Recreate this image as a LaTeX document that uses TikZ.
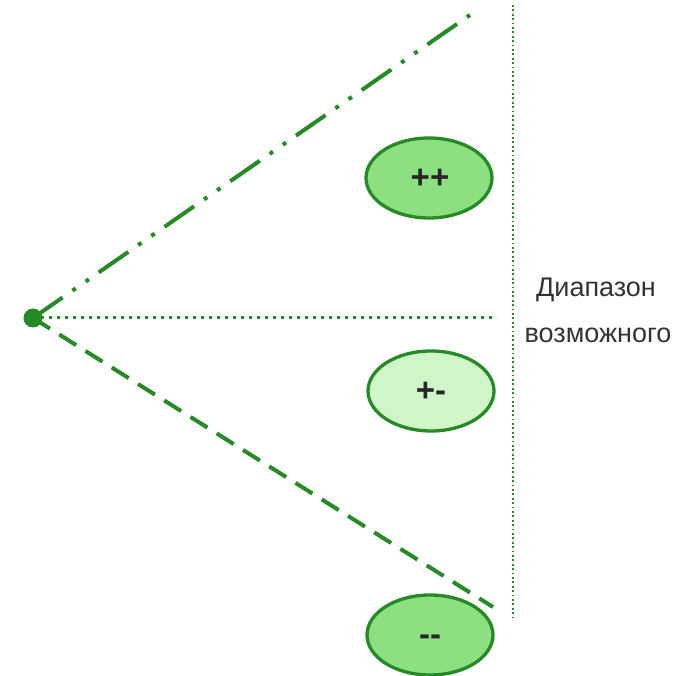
\documentclass[tikz,border=0pt]{standalone}
\usepackage{fontspec}
\setmainfont{Liberation Sans}
\usetikzlibrary{shapes.geometric}
\definecolor{gstroke}{RGB}{38,138,38}
\definecolor{gfill}{RGB}{140,224,130}
\definecolor{gpale}{RGB}{208,245,200}
\begin{document}
\begin{tikzpicture}[x=1pt,y=-1pt,
  oval/.style={ellipse,draw=gstroke,line width=3.3pt,minimum width=126pt,minimum height=80pt,inner sep=0pt},
  sign/.style={font=\fontsize{33}{35}\selectfont\bfseries,text=black!85,inner sep=0pt},
  lbl/.style={font=\fontsize{27}{30}\selectfont,text=black!80,anchor=base,inner sep=0pt}]
\useasboundingbox (0,0) rectangle (697,676);
\coordinate (o) at (33,318);
\coordinate (top) at (470,15);
\coordinate (mid) at (497,318);
\coordinate (bot) at (493,607);
\coordinate (vt) at (513,5);
\coordinate (vb) at (513,620);
\draw[gstroke,line width=4pt,dash pattern=on 36pt off 12pt on 4pt off 12pt on 4pt off 12pt] (o) -- (top);
\draw[gstroke,line width=3pt,dash pattern=on 3pt off 5pt] (o) -- (mid);
\draw[gstroke,line width=4pt,dash pattern=on 20pt off 11pt] (o) -- (bot);
\draw[gstroke,line width=1.8pt,dash pattern=on 1.8pt off 2.6pt] (vt) -- (vb);
\node[circle,fill=gstroke,minimum size=19pt,inner sep=0pt] (dot) at (o) {};
\node[oval,fill=gfill] (pp) at (429,178) {};
\node[oval,fill=gpale] (pm) at (431,391) {};
\node[oval,fill=gfill] (mm) at (430,635) {};
\node[sign] (ppt) at (430,179) {++};
\node[sign] (pmt) at (431,392) {+-};
\node[sign] (mmt) at (430,640) {-{}-};
\node[lbl] (t1) at (596,297) {Диапазон};
\node[lbl] (t2) at (598,343) {возможного};
\end{tikzpicture}
\end{document}
